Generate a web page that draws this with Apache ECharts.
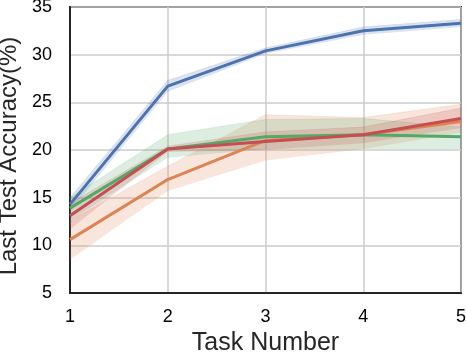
<!DOCTYPE html>
<html>
<head>
<meta charset="utf-8">
<script src="https://cdn.jsdelivr.net/npm/echarts@6/dist/echarts.min.js"></script>
<style>html,body{margin:0;padding:0;background:#fff}#c{width:466px;height:354px}</style>
</head>
<body>
<div id="c"></div>
<script>
var tasks = ['1', '2', '3', '4', '5'];
var yTicks = [5, 10, 15, 20, 25, 30, 35];

var blueMean = [14.3, 26.7, 30.4, 32.5, 33.3];
var blueLow = [13.6, 26.1, 30.1, 32.1, 32.9];
var blueHigh = [15.0, 27.3, 30.7, 32.9, 33.7];

var orangeMean = [10.6, 16.9, 21.0, 21.6, 23.0];
var orangeLow = [8.5, 15.7, 18.9, 20.1, 21.8];
var orangeHigh = [12.6, 18.3, 23.7, 23.4, 24.8];

var greenMean = [13.9, 20.1, 21.4, 21.6, 21.4];
var greenLow = [12.6, 19.2, 20.1, 20.1, 20.1];
var greenHigh = [15.0, 21.6, 23.2, 23.3, 22.4];

var redMean = [13.1, 20.1, 20.9, 21.6, 23.3];
var redLow = [11.7, 19.8, 20.0, 20.7, 22.3];
var redHigh = [14.4, 20.4, 21.9, 22.4, 24.4];

var groups = [
  {name: 'blue', color: '#4C72B0', mean: blueMean, low: blueLow, high: blueHigh},
  {name: 'orange', color: '#DD8452', mean: orangeMean, low: orangeLow, high: orangeHigh},
  {name: 'green', color: '#55A868', mean: greenMean, low: greenLow, high: greenHigh},
  {name: 'red', color: '#C44E52', mean: redMean, low: redLow, high: redHigh}
];

var series = [];
groups.forEach(function (g, i) {
  series.push({
    type: 'line', stack: 'band' + i, symbol: 'none', silent: true,
    data: g.low.slice(),
    lineStyle: {width: 0, opacity: 0}, z: 1
  });
  series.push({
    type: 'line', stack: 'band' + i, symbol: 'none', silent: true,
    data: g.high.map(function (h, k) { return +(h - g.low[k]).toFixed(3); }),
    lineStyle: {width: 1, color: g.color, opacity: 0.15},
    areaStyle: {color: g.color, opacity: 0.2}, z: 1
  });
});
groups.forEach(function (g) {
  series.push({
    type: 'line', name: g.name, symbol: 'none',
    data: g.mean.slice(),
    lineStyle: {color: g.color, width: 3}, z: 3
  });
});

var font = 'Liberation Sans, Arial, Helvetica, sans-serif';
var chart = echarts.init(document.getElementById('c'));
chart.setOption({
  animation: false,
  grid: {left: 70, right: 5, top: 7, bottom: 61, outerBoundsMode: 'none', containLabel: false,
         show: true, borderColor: '#262626', borderWidth: 2, backgroundColor: 'transparent'},
  xAxis: {
    type: 'category', data: tasks, boundaryGap: false,
    name: 'Task Number', nameLocation: 'middle', nameGap: 38,
    nameTextStyle: {fontSize: 25, color: '#262626', fontFamily: font},
    axisLine: {show: true, lineStyle: {color: '#262626', width: 2}},
    axisTick: {show: false},
    axisLabel: {fontSize: 18, color: '#000', margin: 15, fontFamily: font, interval: 0},
    splitLine: {show: true, lineStyle: {color: '#cccccc', width: 1.5}}
  },
  yAxis: {
    type: 'value', min: yTicks[0], max: yTicks[yTicks.length - 1], interval: 5,
    name: 'Last Test Accuracy(%)', nameLocation: 'middle', nameGap: 46,
    nameTextStyle: {fontSize: 24, color: '#262626', fontFamily: font, padding: [0, 12, 0, 0]},
    axisLine: {show: true, lineStyle: {color: '#262626', width: 2}},
    axisTick: {show: false},
    axisLabel: {fontSize: 18, color: '#000', margin: 18, fontFamily: font},
    splitLine: {show: true, lineStyle: {color: '#cccccc', width: 1.5}}
  },
  series: series
});
</script>
</body>
</html>
